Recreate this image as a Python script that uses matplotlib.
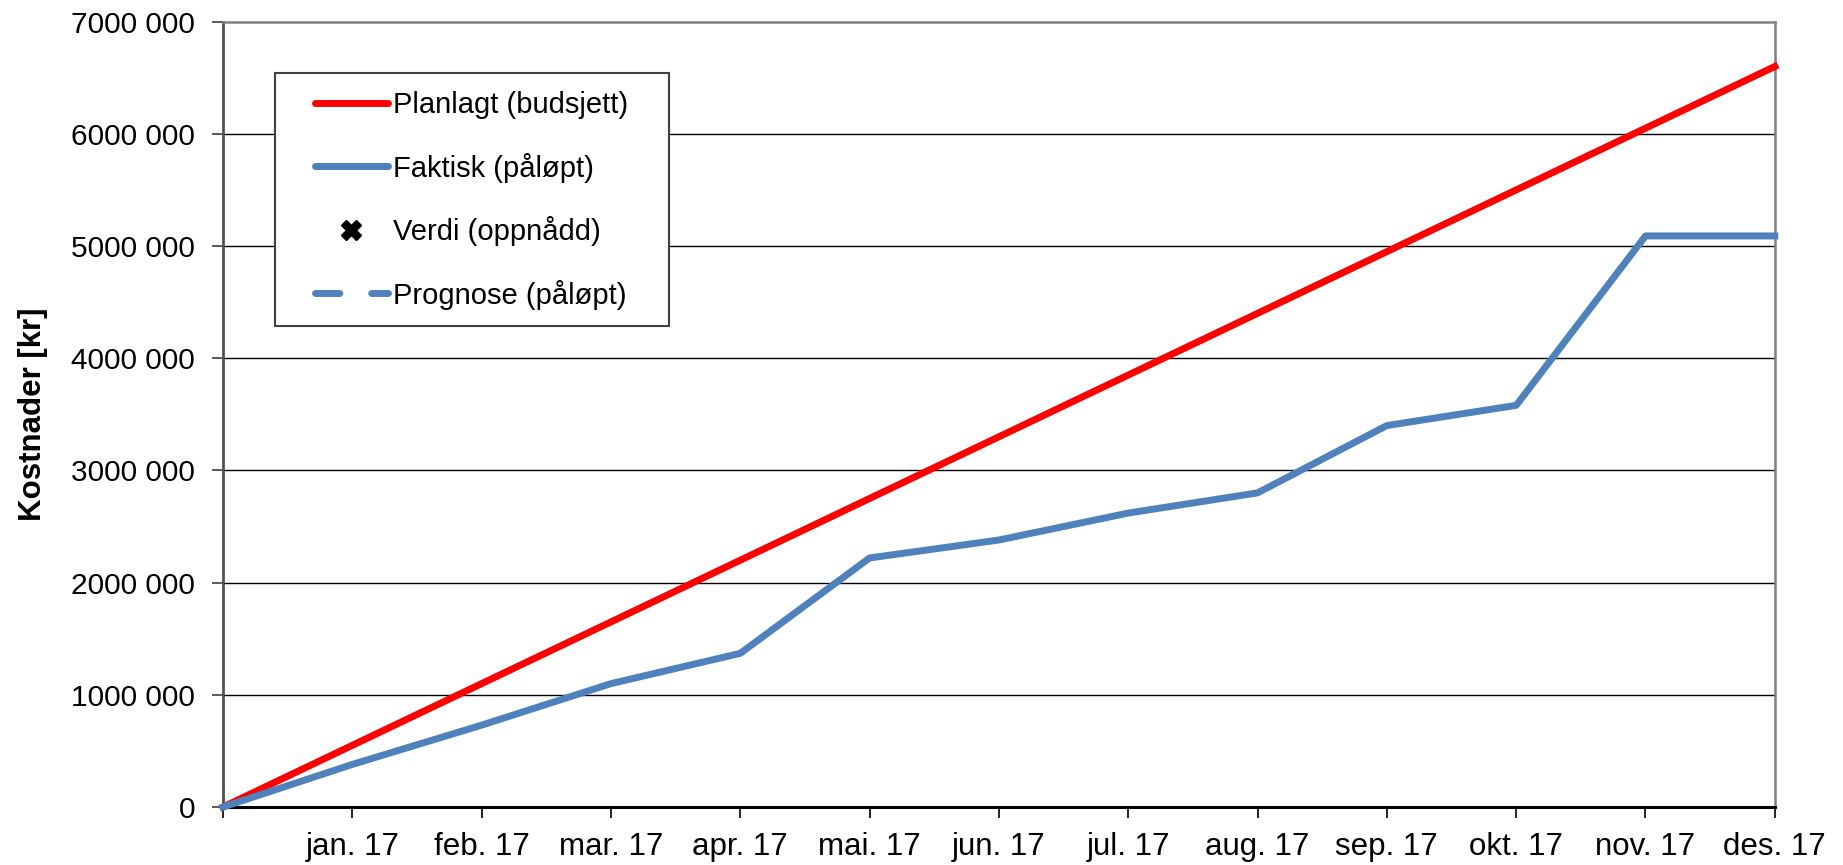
import matplotlib.pyplot as plt
from matplotlib.lines import Line2D
from matplotlib.patches import Rectangle

# data
months = ['jan. 17', 'feb. 17', 'mar. 17', 'apr. 17', 'mai. 17', 'jun. 17',
          'jul. 17', 'aug. 17', 'sep. 17', 'okt. 17', 'nov. 17', 'des. 17']
planlagt = [0, 550000, 1100000, 1650000, 2200000, 2750000, 3300000,
            3850000, 4400000, 4950000, 5500000, 6050000, 6600000]
faktisk = [0, 380000, 730000, 1100000, 1370000, 2220000, 2380000,
           2620000, 2800000, 3400000, 3580000, 5090000, 5090000]
y_ticks = [0, 1000000, 2000000, 3000000, 4000000, 5000000, 6000000, 7000000]
y_ticklabels = ['0', '1000 000', '2000 000', '3000 000', '4000 000',
                '5000 000', '6000 000', '7000 000']

red = '#FF0000'
blue = '#4F81BD'
arial = ['Liberation Sans', 'DejaVu Sans']
W, H = 1843, 865

fig = plt.figure(figsize=(W / 100, H / 100), dpi=100)
ax = fig.add_axes([0.121, 0.067, 0.842, 0.908])

x = list(range(len(planlagt)))
ax.plot(x, planlagt, color=red, lw=5, solid_joinstyle='round', zorder=3, clip_on=False)
ax.plot(x, faktisk, color=blue, lw=5, solid_joinstyle='round', zorder=3, clip_on=False)

ax.set_xlim(0, 12)
ax.set_ylim(0, 7000000)

# grid
for v in y_ticks[1:-1]:
    ax.axhline(v, color='black', lw=1.0, zorder=1)

ax.set_yticks(y_ticks)
ax.set_yticklabels(y_ticklabels, family=arial, fontsize=21.5)
ax.set_xticks(range(1, 13))
ax.set_xticklabels(months, family=arial, fontsize=22.5)
ax.set_xticks([0], minor=True)
ax.tick_params(axis='y', length=8, width=1.2, pad=12, color='#404040')
ax.tick_params(axis='x', which='both', length=8, width=1.2, pad=10, color='black')

for s in ['top', 'right']:
    ax.spines[s].set_color('#808080')
    ax.spines[s].set_linewidth(1.8)
ax.spines['left'].set_color('#505050')
ax.spines['left'].set_linewidth(2)
ax.spines['bottom'].set_color('black')
ax.spines['bottom'].set_linewidth(2.2)

ax.set_ylabel('Kostnader [kr]', family=arial, fontsize=22.5, fontweight='bold')
ax.yaxis.set_label_coords(-0.113, 0.5)

# legend box (drawn separately to get the wide left padding)
fig.patches.append(Rectangle((275 / W, 1 - 326 / H), (669 - 275) / W, (326 - 73) / H,
                             transform=fig.transFigure, facecolor='white',
                             edgecolor='#404040', lw=1.5, zorder=4))

handles = [
    Line2D([], [], color=red, lw=5, solid_capstyle='round'),
    Line2D([], [], color=blue, lw=5, solid_capstyle='round'),
    Line2D([], [], color='black', marker='X', markersize=15, lw=0),
    Line2D([], [], color=blue, lw=5, dashes=(3.5, 4.6), dash_capstyle='round'),
]
labels = ['Planlagt (budsjett)', 'Faktisk (påløpt)', 'Verdi (oppnådd)', 'Prognose (påløpt)']
leg = fig.legend(handles, labels, loc='upper left',
                 bbox_to_anchor=(315 / W, 1 - 91 / H),
                 prop={'family': arial, 'size': 21},
                 frameon=False,
                 handlelength=2.5, handletextpad=0.17, labelspacing=1.15,
                 borderpad=0, borderaxespad=0)
leg.set_zorder(5)

fig.savefig('out.png', dpi=100)
